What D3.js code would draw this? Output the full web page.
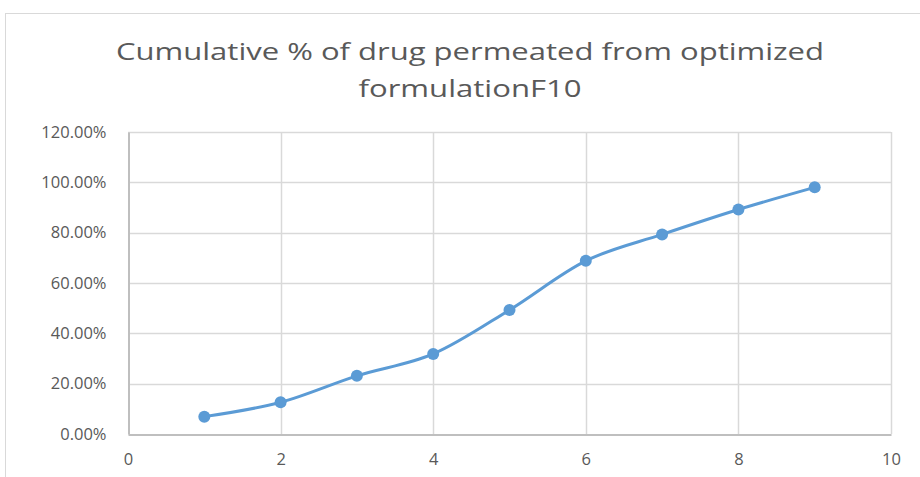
<!DOCTYPE html>
<html>
<head>
<meta charset="utf-8">
<script src="https://cdn.jsdelivr.net/npm/d3@7"></script>
<style>
  body { margin: 0; background: #fff; }
  text { font-family: "Open Sans", "Noto Sans", sans-serif; }
</style>
</head>
<body>
<svg id="chart" width="920" height="477"></svg>
<script>
// values
var titleLines = ["Cumulative % of drug permeated from optimized", "formulationF10"];
var xValues = [1, 2, 3, 4, 5, 6, 7, 8, 9];
var yValues = [0.069, 0.126, 0.231, 0.318, 0.493, 0.688, 0.793, 0.892, 0.98];
var xTicks = [0, 2, 4, 6, 8, 10];
var yTicks = [0, 0.2, 0.4, 0.6, 0.8, 1.0, 1.2];

var svg = d3.select("#chart"),
    margin = { top: 132, right: 29, bottom: 43, left: 128 },
    width = +svg.attr("width"),
    height = +svg.attr("height");

// chart frame
svg.append("rect")
    .attr("x", 5.5).attr("y", 13.5)
    .attr("width", 930).attr("height", 500)
    .attr("fill", "#fff")
    .attr("stroke", "#d9d9d9");

var x = d3.scaleLinear().domain([0, 10])
    .range([margin.left, width - margin.right]);
var y = d3.scaleLinear().domain([0, 1.2])
    .range([height - margin.bottom, margin.top]);

// title
svg.selectAll(".title")
    .data(titleLines)
    .enter().append("text")
    .attr("class", "title")
    .attr("x", 470)
    .attr("y", function(d, i) { return 60 + i * 37; })
    .attr("text-anchor", "middle")
    .attr("fill", "#595959")
    .style("font-size", "23px")
    .attr("textLength", function(d, i) { return i == 0 ? 708 : 223; })
    .attr("lengthAdjust", "spacingAndGlyphs")
    .text(function(d) { return d; });

// gridlines
svg.append("g")
    .attr("class", "grid")
    .selectAll("line")
    .data(yTicks.slice(1))
    .enter().append("line")
    .attr("x1", x(0)).attr("x2", x(10))
    .attr("y1", function(d) { return Math.round(y(d)) + 0.5; })
    .attr("y2", function(d) { return Math.round(y(d)) + 0.5; })
    .attr("stroke", "#d9d9d9").attr("stroke-width", 1.5);

svg.append("g")
    .attr("class", "grid")
    .selectAll("line")
    .data(xTicks.slice(1))
    .enter().append("line")
    .attr("y1", y(0)).attr("y2", y(1.2))
    .attr("x1", function(d) { return Math.round(x(d)) + 0.5; })
    .attr("x2", function(d) { return Math.round(x(d)) + 0.5; })
    .attr("stroke", "#d9d9d9").attr("stroke-width", 1.5);

// axes
var xAxis = svg.append("g")
    .attr("class", "x axis")
    .attr("transform", "translate(0," + (Math.round(y(0)) + 0.5) + ")")
    .call(d3.axisBottom(x).tickValues(xTicks).tickSize(0).tickPadding(19));

var yAxis = svg.append("g")
    .attr("class", "y axis")
    .attr("transform", "translate(" + (Math.round(x(0)) + 0.5) + ",0)")
    .call(d3.axisLeft(y).tickValues(yTicks).tickSize(0).tickPadding(22)
        .tickFormat(function(d) { return (d * 100).toFixed(2) + "%"; }));

svg.selectAll(".axis .domain").attr("stroke", "#bfbfbf").attr("stroke-width", 2);
svg.selectAll(".axis text")
    .attr("fill", "#595959")
    .style("font-size", "16.5px")
    .style("font-family", "'Open Sans', sans-serif");

// series
var pts = xValues.map(function(d, i) { return [d, yValues[i]]; });

var line = d3.line()
    .x(function(d) { return x(d[0]); })
    .y(function(d) { return y(d[1]); })
    .curve(d3.curveCardinal.tension(0));

svg.append("path")
    .datum(pts)
    .attr("fill", "none")
    .attr("stroke", "#5b9bd5")
    .attr("stroke-width", 3)
    .attr("stroke-linejoin", "round")
    .attr("d", line);

svg.append("g")
    .selectAll("circle")
    .data(pts)
    .enter().append("circle")
    .attr("cx", function(d) { return x(d[0]); })
    .attr("cy", function(d) { return y(d[1]); })
    .attr("r", 6)
    .attr("fill", "#5b9bd5");
</script>
</body>
</html>
